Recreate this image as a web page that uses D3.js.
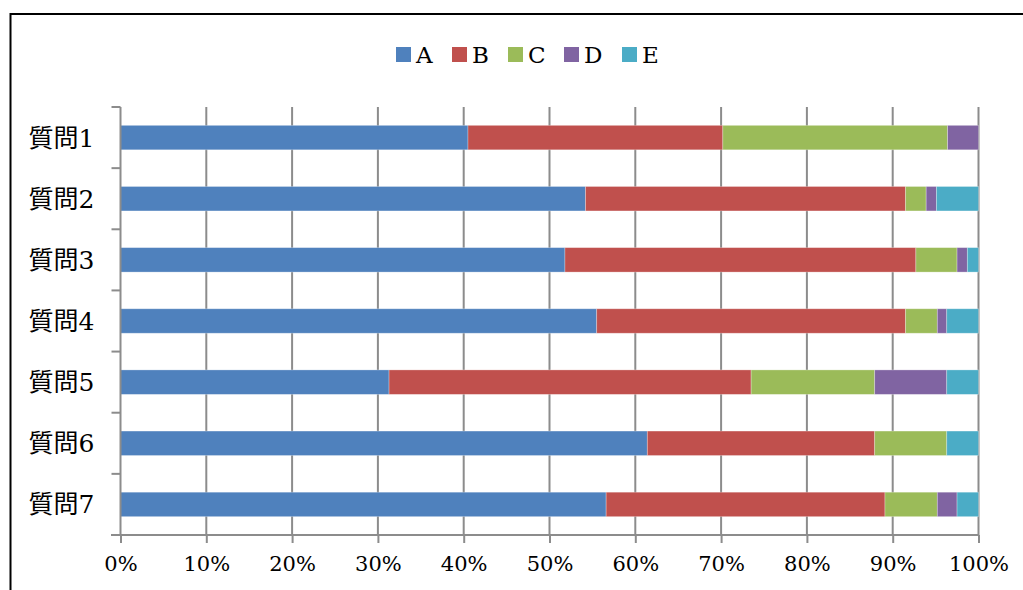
<!DOCTYPE html>
<html>
<head>
<meta charset="utf-8">
<script src="https://cdn.jsdelivr.net/npm/d3@7"></script>
<style>
  body { margin: 0; background: #fff; }
  svg text { font-family: "DejaVu Serif", "Noto Sans CJK JP", serif; fill: #000; }
</style>
</head>
<body>
<svg width="1023" height="590"></svg>
<script>
// データ
var questions = ["質問1", "質問2", "質問3", "質問4", "質問5", "質問6", "質問7"];
var seriesNames = ["A", "B", "C", "D", "E"];
var seriesA = [40.5, 54.2, 51.8, 55.5, 31.3, 61.4, 56.6];
var seriesB = [29.7, 37.3, 40.9, 36.0, 42.2, 26.5, 32.5];
var seriesC = [26.2, 2.4, 4.8, 3.7, 14.4, 8.4, 6.1];
var seriesD = [3.6, 1.2, 1.2, 1.1, 8.4, 0, 2.3];
var seriesE = [0, 4.9, 1.3, 3.7, 3.7, 3.7, 2.5];
var xTicks = [0, 10, 20, 30, 40, 50, 60, 70, 80, 90, 100];
var colors = ["#4F81BD", "#C0504D", "#9BBB59", "#8064A2", "#4BACC6"];

var allSeries = [seriesA, seriesB, seriesC, seriesD, seriesE];

// テーブルを作る
var table = questions.map(function(q, i) {
  var row = {q: q};
  seriesNames.forEach(function(s, j) { row[s] = allSeries[j][i]; });
  return row;
});

var stacked = d3.stack().keys(seriesNames)(table);

var svg = d3.select("svg");

// 外枠
svg.append("rect")
    .attr("x", 10.5).attr("y", 14)
    .attr("width", 1040).attr("height", 600)
    .attr("fill", "none")
    .attr("stroke", "#000")
    .attr("stroke-width", 2);

var x = d3.scaleLinear().domain([0, 100]).range([120.5, 978.5]);
var y = d3.scaleBand().domain(questions).range([107, 535]).paddingInner(0.6).paddingOuter(0.3);

// グリッド線
svg.append("g").selectAll("line")
    .data(xTicks.slice(1))
  .enter().append("line")
    .attr("x1", function(d) { return x(d); })
    .attr("x2", function(d) { return x(d); })
    .attr("y1", 107).attr("y2", 535)
    .attr("stroke", "#8c8c8c")
    .attr("stroke-width", 2);

// 棒
var layers = svg.append("g").selectAll("g")
    .data(stacked)
  .enter().append("g")
    .attr("fill", function(d, i) { return colors[i]; });

layers.selectAll("rect")
    .data(function(d) { return d; })
  .enter().append("rect")
    .attr("x", function(d) { return x(d[0]); })
    .attr("y", function(d) { return y(d.data.q); })
    .attr("width", function(d) { return x(d[1]) - x(d[0]); })
    .attr("height", y.bandwidth())
    .attr("stroke", "rgba(255,255,255,0.35)")
    .attr("stroke-width", 0.8);

// 縦軸
var yAxis = svg.append("g")
    .attr("transform", "translate(120.5,0)");
yAxis.append("line")
    .attr("y1", 107).attr("y2", 535)
    .attr("stroke", "#8c8c8c").attr("stroke-width", 2);
var catEdges = d3.range(questions.length + 1).map(function(i) { return 107 + i * (535 - 107) / questions.length; });
yAxis.selectAll(".tk")
    .data(catEdges)
  .enter().append("line")
    .attr("class", "tk")
    .attr("x1", -9).attr("x2", 0)
    .attr("y1", function(d) { return d; })
    .attr("y2", function(d) { return d; })
    .attr("stroke", "#8c8c8c").attr("stroke-width", 2);
yAxis.selectAll("text")
    .data(questions)
  .enter().append("text")
    .attr("x", -26)
    .attr("y", function(d) { return y(d) + y.bandwidth() / 2; })
    .attr("dy", "0.36em")
    .attr("text-anchor", "end")
    .style("font-size", "25px")
    .text(function(d) { return d; });

// 横軸
var xAxis = d3.axisBottom(x)
    .tickValues(xTicks)
    .tickSize(8)
    .tickPadding(13)
    .tickFormat(function(d) { return d + "%"; });
var gx = svg.append("g")
    .attr("transform", "translate(0,535)")
    .call(xAxis);
gx.select(".domain").remove();
gx.append("line")
    .attr("x1", 111).attr("x2", 978.5)
    .attr("stroke", "#8c8c8c").attr("stroke-width", 2);
gx.selectAll(".tick line").attr("stroke", "#8c8c8c").attr("stroke-width", 2);
gx.selectAll(".tick text")
    .style("font-size", "21px")
    .style("font-family", "\"DejaVu Serif\", serif")
    .attr("fill", "#000");

// 凡例
var legendX = [396, 452, 508, 564, 622];
var legend = svg.append("g").selectAll("g")
    .data(seriesNames)
  .enter().append("g")
    .attr("transform", function(d, i) { return "translate(" + legendX[i] + ",47)"; });
legend.append("rect")
    .attr("width", 15).attr("height", 15)
    .attr("fill", function(d, i) { return colors[i]; });
legend.append("text")
    .attr("x", 20).attr("y", 7.5)
    .attr("dy", "0.36em")
    .style("font-size", "23px")
    .text(function(d) { return d; });
</script>
</body>
</html>
